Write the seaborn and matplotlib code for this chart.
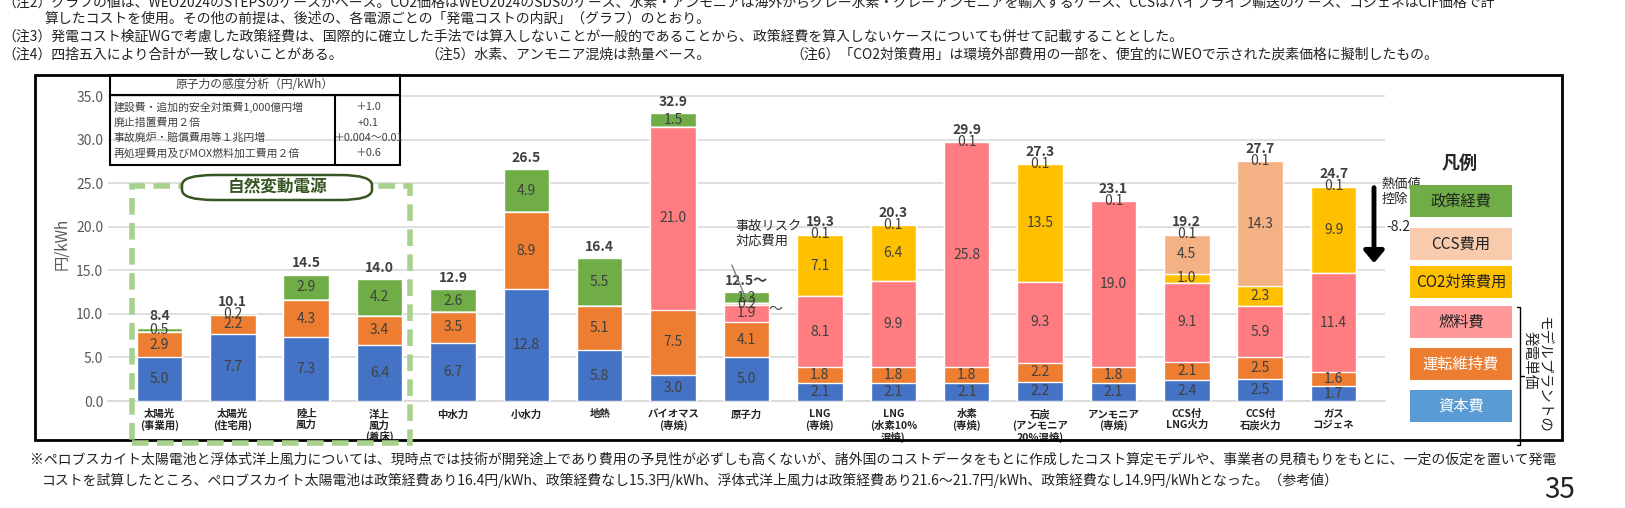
import matplotlib
matplotlib.use("Agg")
import matplotlib.pyplot as plt
import seaborn as sns
import pandas as pd
import numpy as np
from matplotlib.patches import Rectangle, FancyBboxPatch

sns.set_theme(style="white")
plt.rcParams['font.family'] = ['Noto Sans CJK JP', 'DejaVu Sans']

categories = ["太陽光\n(事業用)", "太陽光\n(住宅用)", "陸上\n風力", "洋上\n風力\n(着床)", "中水力", "小水力", "地熱",
              "バイオマス\n(専焼)", "原子力", "LNG\n(専焼)", "LNG\n(水素10%\n混焼)", "水素\n(専焼)",
              "石炭\n(アンモニア\n20%混焼)", "アンモニア\n(専焼)", "CCS付\nLNG火力", "CCS付\n石炭火力", "ガス\nコジェネ"]
capital  = [5.0, 7.7, 7.3, 6.4, 6.7, 12.8, 5.8, 3.0, 5.0, 2.1, 2.1, 2.1, 2.2, 2.1, 2.4, 2.5, 1.7]
om       = [2.9, 2.2, 4.3, 3.4, 3.5, 8.9, 5.1, 7.5, 4.1, 1.8, 1.8, 1.8, 2.2, 1.8, 2.1, 2.5, 1.6]
fuel     = [0, 0, 0, 0, 0, 0, 0, 21.0, 1.9, 8.1, 9.9, 25.8, 9.3, 19.0, 9.1, 5.9, 11.4]
accident = [0, 0, 0, 0, 0, 0, 0, 0, 0.2, 0, 0, 0, 0, 0, 0, 0, 0]
co2      = [0, 0, 0, 0, 0, 0, 0, 0, 0, 7.1, 6.4, 0, 13.5, 0, 1.0, 2.3, 9.9]
ccs      = [0, 0, 0, 0, 0, 0, 0, 0, 0, 0, 0, 0, 0, 0, 4.5, 14.3, 0]
policy   = [0.5, 0.2, 2.9, 4.2, 2.6, 4.9, 5.5, 1.5, 1.3, 0.1, 0.1, 0.1, 0.1, 0.1, 0.1, 0.1, 0.1]
totals   = ["8.4", "10.1", "14.5", "14.0", "12.9", "26.5", "16.4", "32.9", "12.5～", "19.3", "20.3", "29.9",
            "27.3", "23.1", "19.2", "27.7", "24.7"]
yticks = [0, 5, 10, 15, 20, 25, 30, 35]

layers = [("資本費", capital, "#4472C4"), ("運転維持費", om, "#ED7D31"), ("燃料費", fuel, "#FF7C80"),
          ("事故リスク対応費用", accident, "#F8CBAD"), ("CO2対策費用", co2, "#FFC000"),
          ("CCS費用", ccs, "#F4B183"), ("政策経費", policy, "#70AD47")]

W, H = 1625, 508
fig = plt.figure(figsize=(16.25, 5.08), dpi=100)
ax = fig.add_axes([108/W, 0.2106, (1385-108)/W, 0.6175])

cum = np.zeros(len(categories))
cums = []
for name, vals, col in layers:
    cum = cum + np.array(vals)
    cums.append(cum.copy())
x = np.arange(len(categories))
for (name, vals, col), c in reversed(list(zip(layers, cums))):
    df = pd.DataFrame({"cat": categories, "v": c})
    sns.barplot(data=df, x="cat", y="v", color=col, saturation=1, width=0.62, ax=ax, zorder=3)

for (name, vals, col), c in zip(layers, cums):
    for i, v in enumerate(vals):
        if v > 0:
            ax.text(i, c[i] - v/2, f"{v:.1f}", ha="center", va="center", fontsize=10, color="#404040", zorder=5)
for i, t in enumerate(totals):
    ax.text(i, cums[-1][i] + 0.5, t, ha="center", va="bottom", fontsize=10, fontweight="bold", color="#404040", zorder=5)
ax.text(8.3, cums[3][8] - 0.6, "～", fontsize=10, color="#404040", va="center", ha="left")

ax.set_ylim(0, 36)
ax.set_xlim(-0.7, 16.7)
ax.set_yticks(yticks)
ax.set_yticklabels([f"{v:.1f}" for v in yticks], fontsize=10, color="#595959")
ax.yaxis.grid(True, color="#D9D9D9", lw=1.2, zorder=0)
ax.set_axisbelow(True)
ax.set_xlabel("")
ax.set_ylabel("円/kWh", fontsize=11, color="#595959")
ax.set_xticks(x)
ax.set_xticklabels(categories, fontsize=7.5, fontweight="bold", color="#222222", linespacing=1.1, va="top")
ax.tick_params(axis="x", length=0, pad=6)
ax.tick_params(axis="y", length=0)
for s in ax.spines.values():
    s.set_visible(False)
ax.spines["bottom"].set_visible(True)
ax.spines["bottom"].set_color("#D9D9D9")

# annotations
ax.annotate("", xy=(16.55, 15.5), xytext=(16.55, 24.8),
            arrowprops=dict(arrowstyle="-|>,head_width=0.5,head_length=0.6", lw=3.5, color="black"))
ax.text(16.65, 24.0, "熱価値\n控除", fontsize=9.5, va="center", ha="left", linespacing=1.2)
ax.text(16.72, 20.0, "-8.2", fontsize=10, va="center", ha="left")
ax.text(7.85, 19.2, "事故リスク\n対応費用", fontsize=9.5, ha="left", va="center", linespacing=1.2)
ax.plot([7.8, 8.0], [15.6, 11.6], color="#808080", lw=1, zorder=6)

def fx(px): return px / W
def fy(py): return 1 - py / H

fig.patches.append(Rectangle((fx(35), fy(440)), fx(1562-35), (440-75)/H, transform=fig.transFigure,
                             fill=False, lw=2, ec="black"))
fig.patches.append(Rectangle((fx(132), fy(443)), fx(410-132), (443-186)/H, transform=fig.transFigure,
                             fill=False, lw=4, ec="#A9D18E", ls=(0, (3, 1.5))))
fig.patches.append(FancyBboxPatch((fx(182), fy(200)), fx(190), 25/H, transform=fig.transFigure,
                                  boxstyle="round,pad=0,rounding_size=0.02", fc="white", ec="#375623", lw=1.8))
fig.text(fx(277), fy(187.5), "自然変動電源", ha="center", va="center", fontsize=12, fontweight="bold", color="#375623")

fig.patches.append(Rectangle((fx(110), fy(165)), fx(290), 90/H, transform=fig.transFigure, fill=False, lw=1.5, ec="black"))
fig.lines.append(plt.Line2D([fx(110), fx(400)], [fy(95), fy(95)], transform=fig.transFigure, color="black", lw=1.5))
fig.lines.append(plt.Line2D([fx(335), fx(335)], [fy(95), fy(165)], transform=fig.transFigure, color="black", lw=1.5))
fig.text(fx(255), fy(85), "原子力の感度分析（円/kWh）", ha="center", va="center", fontsize=8.5, color="#404040")
rows = ["建設費・追加的安全対策費1,000億円増", "廃止措置費用２倍", "事故廃炉・賠償費用等１兆円増", "再処理費用及びMOX燃料加工費用２倍"]
vals = ["＋1.0", "+0.1", "＋0.004～0.01", "＋0.6"]
for k, (r, v) in enumerate(zip(rows, vals)):
    yy = fy(107 + k * 15.5)
    fig.text(fx(114), yy, r, ha="left", va="center", fontsize=7.8, color="#404040")
    fig.text(fx(368), yy, v, ha="center", va="center", fontsize=7.8, color="#404040")

fig.text(fx(1460), fy(163), "凡例", ha="center", va="center", fontsize=13, fontweight="bold")
leg = [("政策経費", "#70AD47", 185, "#222222"), ("CCS費用", "#F8CBAD", 228, "#222222"),
       ("CO2対策費用", "#FFC000", 266, "#222222"), ("燃料費", "#FF9999", 306, "#222222"),
       ("運転維持費", "#ED7D31", 348, "white"), ("資本費", "#5B9BD5", 390, "white")]
for name, col, top, tc in leg:
    fig.patches.append(Rectangle((fx(1410), fy(top + 32)), fx(102), 32/H, transform=fig.transFigure, fc=col, ec="none"))
    fig.text(fx(1461), fy(top + 16), name, ha="center", va="center", fontsize=11, color=tc)
fig.lines.append(plt.Line2D([fx(1517), fx(1520), fx(1520), fx(1517)], [fy(307), fy(307), fy(445), fy(445)],
                            transform=fig.transFigure, color="black", lw=1))
fig.lines.append(plt.Line2D([fx(1520), fx(1524)], [fy(376), fy(376)], transform=fig.transFigure, color="black", lw=1))
fig.text(fx(1543), fy(375), "モデルプラントの", rotation=270, ha="center", va="center", fontsize=10.5)
fig.text(fx(1530), fy(360), "発電単価", rotation=270, ha="center", va="center", fontsize=10.5)

note_kw = dict(fontsize=10, color="#222222", ha="left", va="center")
fig.text(fx(2), fy(3), "（注2）グラフの値は、WEO2024のSTEPSのケースがベース。CO2価格はWEO2024のSDSのケース、水素・アンモニアは海外からグレー水素・グレーアンモニアを輸入するケース、CCSはパイプライン輸送のケース、コジェネはCIF価格で計", **note_kw)
fig.text(fx(45), fy(19), "算したコストを使用。その他の前提は、後述の、各電源ごとの「発電コストの内訳」（グラフ）のとおり。", **note_kw)
fig.text(fx(2), fy(37), "（注3）発電コスト検証WGで考慮した政策経費は、国際的に確立した手法では算入しないことが一般的であることから、政策経費を算入しないケースについても併せて記載することとした。", **note_kw)
fig.text(fx(2), fy(55), "（注4）四捨五入により合計が一致しないことがある。", **note_kw)
fig.text(fx(425), fy(55), "（注5）水素、アンモニア混焼は熱量ベース。", **note_kw)
fig.text(fx(790), fy(55), "（注6）「CO2対策費用」は環境外部費用の一部を、便宜的にWEOで示された炭素価格に擬制したもの。", **note_kw)
fig.text(fx(30), fy(460), "※ペロブスカイト太陽電池と浮体式洋上風力については、現時点では技術が開発途上であり費用の予見性が必ずしも高くないが、諸外国のコストデータをもとに作成したコスト算定モデルや、事業者の見積もりをもとに、一定の仮定を置いて発電", **note_kw)
fig.text(fx(42), fy(480), "コストを試算したところ、ペロブスカイト太陽電池は政策経費あり16.4円/kWh、政策経費なし15.3円/kWh、浮体式洋上風力は政策経費あり21.6～21.7円/kWh、政策経費なし14.9円/kWhとなった。（参考値）", **note_kw)
fig.text(fx(1560), fy(490), "35", fontsize=20, ha="center", va="center", color="#222222")

fig.savefig("out.png", dpi=100)
